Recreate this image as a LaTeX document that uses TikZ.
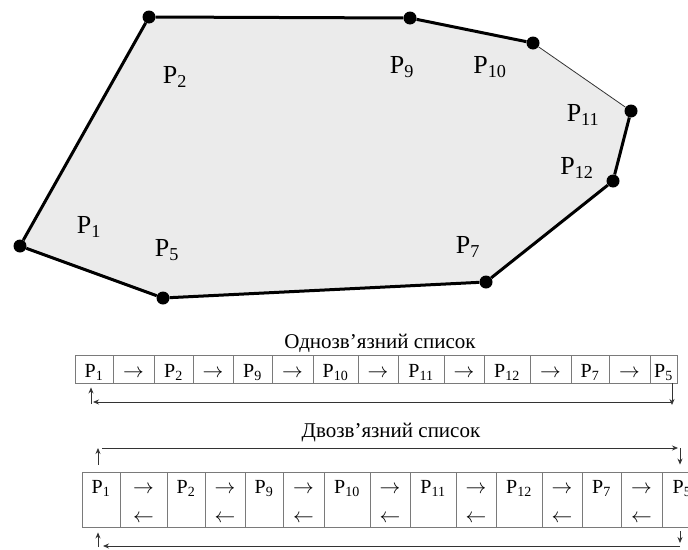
\documentclass[tikz,border=0pt]{standalone}
\usepackage{fontspec}
\setmainfont{Liberation Serif}
\usetikzlibrary{arrows.meta, backgrounds, positioning}
\definecolor{polyGrey}{HTML}{EBEBEB}
\definecolor{gridGrey}{HTML}{7A7A7A}
\newcommand{\fwd}{$\rightarrow$}
\newcommand{\bwd}{$\leftarrow$}
\tikzset{
  edge/.style      = {line width=3pt, black},
  thinedge/.style  = {line width=0.8pt, black!80},
  vertdot/.style   = {circle, fill=black, inner sep=0pt, minimum size=13pt},
  polyfill/.style  = {fill=polyGrey},
  lbl/.style       = {font=\fontsize{26}{30}\selectfont},
  title/.style     = {font=\fontsize{21}{25}\selectfont, anchor=base},
  cellA/.style     = {draw=gridGrey, line width=0.9pt, inner sep=0pt,
                      text height=22pt, text depth=6pt, minimum width=#1,
                      font=\fontsize{20}{24}\selectfont},
  cellB/.style     = {draw=gridGrey, line width=0.9pt, inner sep=0pt,
                      text height=21pt, text depth=34pt, minimum width=#1,
                      font=\fontsize{20}{24}\selectfont},
  back/.style      = {label={[font=\fontsize{20}{24}\selectfont, anchor=base,
                      yshift=5pt]south:\bwd}},
  conn/.style      = {-{Stealth[length=6pt, width=5pt]}, line width=0.8pt, black!80},
}

\begin{document}
\begin{tikzpicture}[x=1pt, y=-1pt]
  \useasboundingbox (0,0) rectangle (688,549);

  % hull vertices
  \node[vertdot] (p1)  at (20,246)  {};
  \node[vertdot] (p2)  at (149,17)  {};
  \node[vertdot] (p9)  at (410,18)  {};
  \node[vertdot] (p10) at (533,43)  {};
  \node[vertdot] (p11) at (631,111) {};
  \node[vertdot] (p12) at (613,181) {};
  \node[vertdot] (p7)  at (486,282) {};
  \node[vertdot] (p5)  at (163,298) {};

  \begin{scope}[on background layer]
    \fill[polyfill] (p1.center) -- (p2.center) -- (p9.center) -- (p10.center)
      -- (p11.center) -- (p12.center) -- (p7.center) -- (p5.center) -- cycle;
  \end{scope}

  \draw[edge] (p1) -- (p2) -- (p9) -- (p10);
  \draw[thinedge] (p10) -- (p11);
  \draw[edge] (p11) -- (p12) -- (p7) -- (p5) -- (p1);

  \node[lbl] (n1)  at (89,227)  {P\textsubscript{1}};
  \node[lbl] (n2)  at (175,77)  {P\textsubscript{2}};
  \node[lbl] (n5)  at (167,250) {P\textsubscript{5}};
  \node[lbl] (n9)  at (402,67)  {P\textsubscript{9}};
  \node[lbl] (n10) at (490,67)  {P\textsubscript{10}};
  \node[lbl] (n11) at (583,115) {P\textsubscript{11}};
  \node[lbl] (n12) at (577,168) {P\textsubscript{12}};
  \node[lbl] (n7)  at (468,247) {P\textsubscript{7}};

  % singly linked list
  \node[title] (t1) at (380,348) {Однозв’язний список};
  \node[cellA=38pt] (a1)  at (94,369)    {P\textsubscript{1}};
  \node[cellA=41pt] (a2)  at (133.5,369) {\fwd};
  \node[cellA=39pt] (a3)  at (173.5,369) {P\textsubscript{2}};
  \node[cellA=40pt] (a4)  at (213,369)   {\fwd};
  \node[cellA=39pt] (a5)  at (252.5,369) {P\textsubscript{9}};
  \node[cellA=41pt] (a6)  at (292.5,369) {\fwd};
  \node[cellA=45pt] (a7)  at (335.5,369) {P\textsubscript{10}};
  \node[cellA=40pt] (a8)  at (378,369)   {\fwd};
  \node[cellA=46pt] (a9)  at (421,369)   {P\textsubscript{11}};
  \node[cellA=40pt] (a10) at (464,369)   {\fwd};
  \node[cellA=46pt] (a11) at (507,369)   {P\textsubscript{12}};
  \node[cellA=41pt] (a12) at (550.5,369) {\fwd};
  \node[cellA=38pt] (a13) at (590,369)   {P\textsubscript{7}};
  \node[cellA=41pt] (a14) at (629.5,369) {\fwd};
  \node[cellA=27pt] (a15) at (663.5,369) {P\textsubscript{5}};

  \coordinate (r1) at (672,402);
  \coordinate (l1) at (91,402);
  \draw[conn] (a15.south -| r1) -- ([yshift=-3pt]r1);
  \draw[conn] (r1) -- ([xshift=2pt]l1);
  \draw[conn] ([yshift=-2pt]l1) -- ([yshift=-4pt]a1.south -| l1);

  % doubly linked list
  \node[title] (t2) at (391,437) {Двозв’язний список};
  \node[cellB=38pt] (b1)  at (101,499.5)   {P\textsubscript{1}};
  \node[cellB=47pt, back] (b2)  at (143.5,499.5) {\fwd};
  \node[cellB=38pt] (b3)  at (186,499.5)   {P\textsubscript{2}};
  \node[cellB=40pt, back] (b4)  at (225,499.5)   {\fwd};
  \node[cellB=38pt] (b5)  at (264,499.5)   {P\textsubscript{9}};
  \node[cellB=41pt, back] (b6)  at (303.5,499.5) {\fwd};
  \node[cellB=46pt] (b7)  at (347,499.5)   {P\textsubscript{10}};
  \node[cellB=40pt, back] (b8)  at (390,499.5)   {\fwd};
  \node[cellB=46pt] (b9)  at (433,499.5)   {P\textsubscript{11}};
  \node[cellB=40pt, back] (b10) at (476,499.5)   {\fwd};
  \node[cellB=46pt] (b11) at (519,499.5)   {P\textsubscript{12}};
  \node[cellB=40pt, back] (b12) at (562,499.5)   {\fwd};
  \node[cellB=39pt] (b13) at (601.5,499.5) {P\textsubscript{7}};
  \node[cellB=41pt, back] (b14) at (641.5,499.5) {\fwd};
  \node[cellB=40pt] (b15) at (682,499.5)   {P\textsubscript{5}};

  \coordinate (r2) at (680,448);
  \coordinate (l2) at (98,448);
  \draw[conn] ([yshift=7pt]b1.north -| l2) -- (l2);
  \draw[conn] ([xshift=4pt]l2) -- ([xshift=-2pt]r2);
  \draw[conn] (r2) -- ([yshift=7pt]b15.north -| r2);

  \coordinate (r3) at (680,546);
  \coordinate (l3) at (98,546);
  \draw[conn] ([yshift=-4pt]b15.south -| r3) -- ([yshift=3pt]r3);
  \draw[conn] (r3) -- ([xshift=5pt]l3);
  \draw[conn] ([yshift=-1pt]l3) -- ([yshift=-5pt]b1.south -| l3);
\end{tikzpicture}
\end{document}
